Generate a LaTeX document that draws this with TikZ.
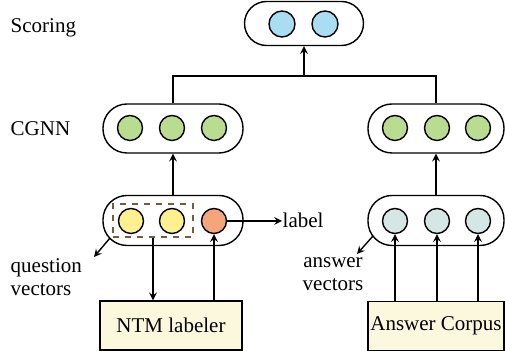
\documentclass[tikz,border=0pt]{standalone}
\usepackage{fontspec}
\setmainfont{Liberation Serif}
\definecolor{scoreblue}{HTML}{A8DDF2}
\definecolor{cgnngreen}{HTML}{BADC90}
\definecolor{qyellow}{HTML}{FCF091}
\definecolor{lorange}{HTML}{F4A57C}
\definecolor{agray}{HTML}{D6E6E4}
\definecolor{boxcream}{HTML}{FBF8DE}
\definecolor{dashbrown}{HTML}{7A5A3C}
\tikzstyle{pill}=[draw,rounded corners=12pt,minimum width=70pt,minimum height=24.5pt,inner sep=0pt]
\tikzstyle{dotb}=[circle,draw,fill=scoreblue,minimum size=13pt,inner sep=0pt]
\tikzstyle{dotg}=[circle,draw,fill=cgnngreen,minimum size=12.5pt,inner sep=0pt]
\tikzstyle{doty}=[circle,draw,fill=qyellow,minimum size=12.5pt,inner sep=0pt]
\tikzstyle{doto}=[circle,draw,fill=lorange,minimum size=12.5pt,inner sep=0pt]
\tikzstyle{dota}=[circle,draw,fill=agray,minimum size=12.5pt,inner sep=0pt]
\tikzstyle{srcbox}=[draw,fill=boxcream,minimum height=24.5pt,inner sep=0pt]
\tikzstyle{lbl}=[inner sep=0pt,font=\rmfamily\fontsize{10.5}{11.5}\selectfont]

\begin{document}
\begin{tikzpicture}[x=0.5pt,y=-0.5pt,line width=0.7pt,>=stealth]
    \useasboundingbox (0,0) rectangle (505,351);
    % scoring layer
    \node[pill,minimum width=59.5pt,minimum height=22pt,rounded corners=11pt] (score) at (304,23.5) {};
    \node[dotb] (s1) at (282,24) {};
    \node[dotb] (s2) at (325,24) {};
    % CGNN layer
    \node[pill] (cgl) at (173,128.5) {};
    \node[pill,minimum width=68pt] (cgr) at (436,128.5) {};
    \node[dotg] (g1) at (130,128) {};
    \node[dotg] (g2) at (172,128) {};
    \node[dotg] (g3) at (214,128) {};
    \node[dotg] (g4) at (395,128) {};
    \node[dotg] (g5) at (437,128) {};
    \node[dotg] (g6) at (478,128) {};
    % input vectors
    \node[pill,minimum height=25pt] (ql) at (173,220.5) {};
    \node[pill,minimum width=68pt,minimum height=25pt] (ar) at (436,220.5) {};
    \node[draw=dashbrown,dashed,minimum width=40pt,minimum height=16.5pt,inner sep=0pt] (dash) at (153,220.5) {};
    \node[doty] (q1) at (131,221) {};
    \node[doty] (q2) at (172,221) {};
    \node[doto] (q3) at (214,221) {};
    \node[dota] (a1) at (395,221) {};
    \node[dota] (a2) at (437,221) {};
    \node[dota] (a3) at (478,221) {};
    % sources
    \node[srcbox,minimum width=71pt,lbl] (ntm) at (171,325.5) {NTM labeler};
    \node[srcbox,minimum width=68pt,lbl] (corpus) at (436,326) {Answer Corpus};
    % texts
    \node[lbl,anchor=base west] (tscore) at (10,33) {Scoring};
    \node[lbl,anchor=base west] (tcgnn) at (10,136) {CGNN};
    \node[lbl,anchor=base west] (lab) at (282,228) {label};
    \node[lbl,align=left,anchor=north west] (qtext) at (10,258) {question\\vectors};
    \node[lbl,align=center,anchor=north] (atext) at (333,257) {answer\\vectors};
    \coordinate (join) at (304,76);
    \coordinate (qv) at (110,238);
    \coordinate (qtip) at (94,257);
    \coordinate (av) at (373,236);
    \coordinate (atip) at (357,254);

    \draw (cgl.north) |- (join) -| (cgr.north);
    \draw[->] (join) -- (score.south);
    \draw[->] (ql.north) -- (cgl.south);
    \draw[->] (ar.north) -- (cgr.south);
    \draw[->] (q3.east) -- (lab.west |- q3.east);
    \draw[->] (qv) -- (qtip);
    \draw[->] (av) -- (atip);
    \draw[->] (dash.south) -- (dash.south |- ntm.north);
    \draw[->] (ntm.north -| q3) -- (q3.south);
    \foreach \to in {a1,a2,a3}
    \draw[->] (corpus.north -| \to) -- (\to.south);
\end{tikzpicture}
\end{document}
